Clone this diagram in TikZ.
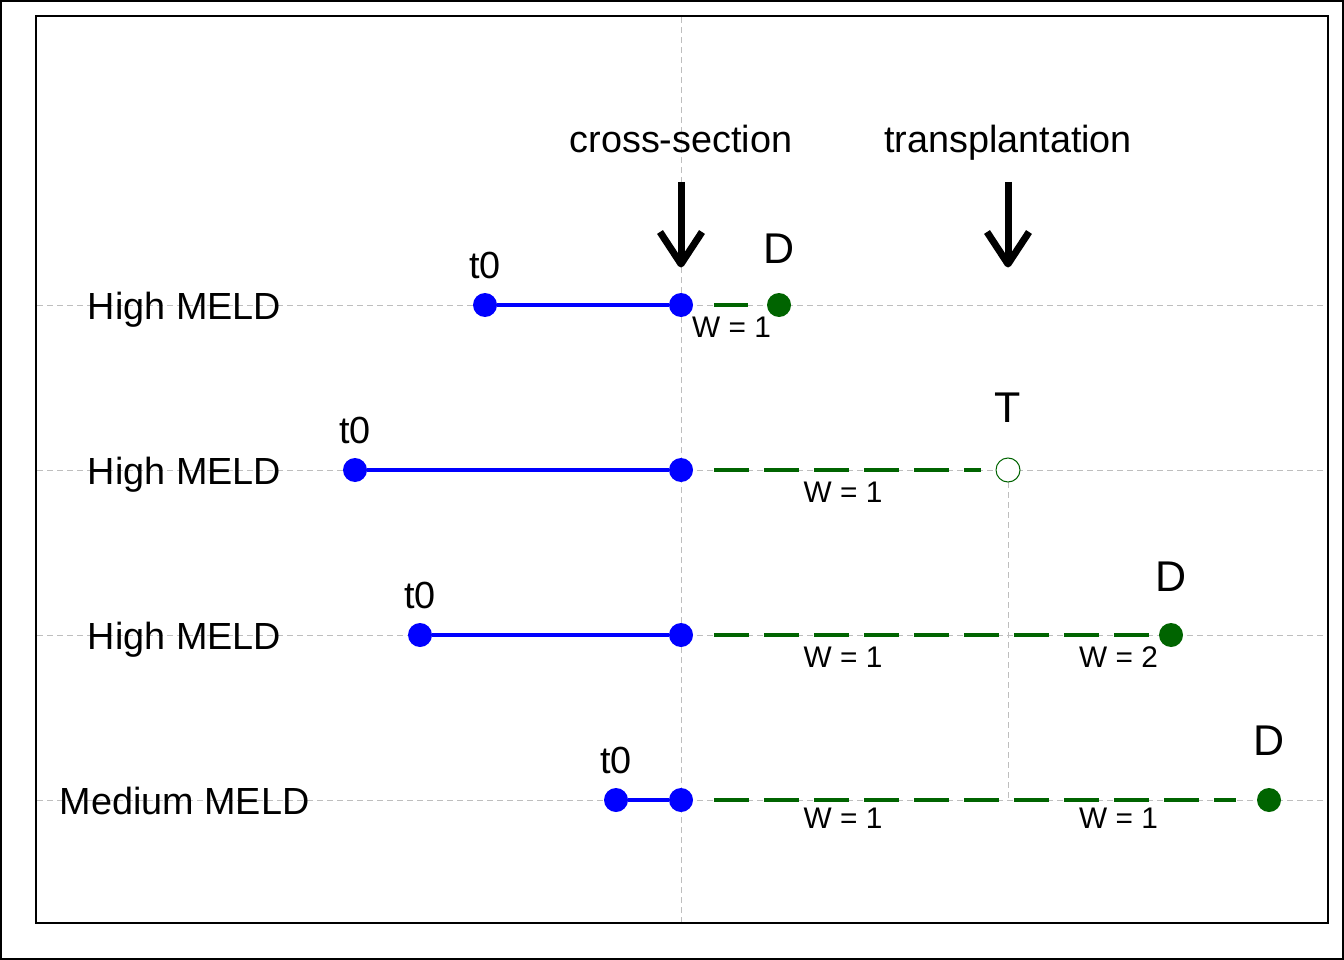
\documentclass[tikz,border=0pt]{standalone}
\usepackage{fontspec}
\setmainfont{Liberation Sans}
\definecolor{dkgreen}{HTML}{006400}
\definecolor{gridgray}{HTML}{BEBEBE}
\tikzset{
  gridline/.style={draw=gridgray, line width=1pt, dash pattern=on 6pt off 4pt},
  bluedot/.style={circle, fill=blue, inner sep=0pt, minimum size=24pt},
  greendot/.style={circle, fill=dkgreen, inner sep=0pt, minimum size=24pt},
  opendot/.style={circle, draw=dkgreen, fill=white, line width=1pt, inner sep=0pt, minimum size=24pt},
  bluelink/.style={draw=blue, line width=4.8pt},
  greenlink/.style={draw=dkgreen, line width=4.8pt, dash pattern=on 35pt off 15pt},
  mainlbl/.style={anchor=base, inner sep=0pt, font=\fontsize{37.8}{42}\selectfont},
  evlbl/.style={anchor=base, inner sep=0pt, font=\fontsize{43}{48}\selectfont},
  wlbl/.style={anchor=base, inner sep=0pt, font=\fontsize{29.8}{34}\selectfont},
  bigarrow/.style={draw=black, line width=7pt, line join=round},
}
\begin{document}
\begin{tikzpicture}[x=1pt, y=-1pt]
\useasboundingbox (0,0) rectangle (1344,960);
\draw[line width=2pt] (1,1) rectangle (1343,959);
% grid lines
\coordinate (gl1) at (37,305);  \coordinate (gr1) at (1327,305);
\coordinate (gl2) at (37,470);  \coordinate (gr2) at (1327,470);
\coordinate (gl3) at (37,635);  \coordinate (gr3) at (1327,635);
\coordinate (gl4) at (37,800);  \coordinate (gr4) at (1327,800);
\coordinate (vt) at (681,17);   \coordinate (vb) at (681,922);
\coordinate (tb) at (1008,800);
\draw[gridline] (gl1) -- (gr1);
\draw[gridline] (gl2) -- (gr2);
\draw[gridline] (gl3) -- (gr3);
\draw[gridline] (gl4) -- (gr4);
\draw[gridline] (vt) -- (vb);
\draw[line width=2pt] (36,16) rectangle (1328,923);

% header labels and arrows
\node[mainlbl] (cslbl) at (681,153) {cross-section};
\node[mainlbl] (txlbl) at (1008,153) {transplantation};
\coordinate (a1top) at (681,182); \coordinate (a1tip) at (681,264);
\coordinate (a1l) at (660,232);   \coordinate (a1r) at (702,232);
\coordinate (a2top) at (1008,182); \coordinate (a2tip) at (1008,264);
\coordinate (a2l) at (987,232);    \coordinate (a2r) at (1029,232);
\draw[bigarrow] (a1top) -- (a1tip);
\draw[bigarrow] (a1l) -- (a1tip) -- (a1r);
\draw[bigarrow] (a2top) -- (a2tip);
\draw[bigarrow] (a2l) -- (a2tip) -- (a2r);

% row labels
\node[mainlbl] (r1lbl) at (184.5,319) {High MELD};
\node[mainlbl] (r2lbl) at (184.5,484) {High MELD};
\node[mainlbl] (r3lbl) at (184.5,649) {High MELD};
\node[mainlbl] (r4lbl) at (184.5,814) {Medium MELD};

% row 1
\node[bluedot] (t1) at (485,305) {};
\node[bluedot] (c1) at (681,305) {};
\node[greendot] (e1) at (779,305) {};
\draw[bluelink] (t1) -- (c1);
\draw[greenlink, shorten <=21pt, shorten >=19pt] (c1) -- (e1);
\node[mainlbl] (t1lbl) at (485,278) {t0};
\node[evlbl] (e1lbl) at (779,263) {D};
\node[wlbl] (w1a) at (731.5,337) {W = 1};

% row 2
\draw[gridline] (1008,482) -- (tb);
\node[bluedot] (t2) at (355,470) {};
\node[bluedot] (c2) at (681,470) {};
\node[opendot] (e2) at (1008,470) {};
\draw[bluelink] (t2) -- (c2);
\draw[greenlink, shorten <=21pt, shorten >=15pt] (c2) -- (e2);
\node[mainlbl] (t2lbl) at (355,443) {t0};
\node[evlbl] (e2lbl) at (1008,422) {T};
\node[wlbl] (w2a) at (843,502) {W = 1};

% row 3
\node[bluedot] (t3) at (420,635) {};
\node[bluedot] (c3) at (681,635) {};
\node[greendot] (e3) at (1171,635) {};
\draw[bluelink] (t3) -- (c3);
\draw[greenlink, shorten <=21pt, shorten >=10pt] (c3) -- (e3);
\node[mainlbl] (t3lbl) at (420,608) {t0};
\node[evlbl] (e3lbl) at (1171,591) {D};
\node[wlbl] (w3a) at (843,667) {W = 1};
\node[wlbl] (w3b) at (1118.5,667) {W = 2};

% row 4
\node[bluedot] (t4) at (616,800) {};
\node[bluedot] (c4) at (681,800) {};
\node[greendot] (e4) at (1269,800) {};
\draw[bluelink] (t4) -- (c4);
\draw[greenlink, shorten <=21pt, shorten >=21pt] (c4) -- (e4);
\node[mainlbl] (t4lbl) at (616,773) {t0};
\node[evlbl] (e4lbl) at (1269,755) {D};
\node[wlbl] (w4a) at (843,828) {W = 1};
\node[wlbl] (w4b) at (1118.5,828) {W = 1};
\end{tikzpicture}
\end{document}
